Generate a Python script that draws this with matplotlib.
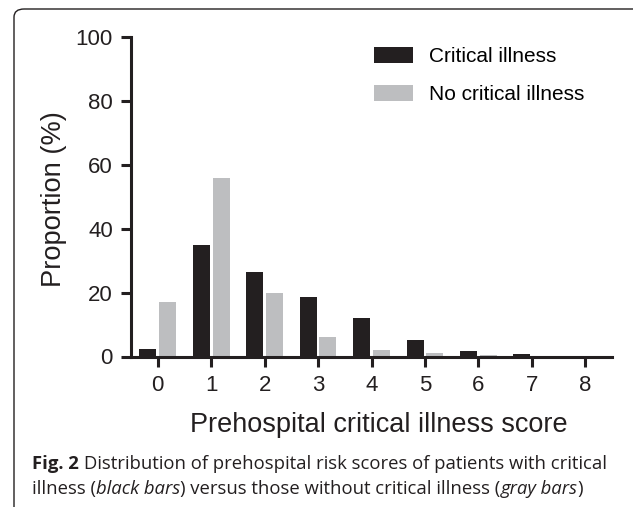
import matplotlib
matplotlib.use("Agg")
import matplotlib.pyplot as plt
import numpy as np
from matplotlib.patches import FancyBboxPatch

scores = [0, 1, 2, 3, 4, 5, 6, 7, 8]
critical = [2.5, 34.8, 26.5, 18.5, 12.2, 5.2, 1.8, 0.8, 0.2]
no_critical = [17.2, 55.8, 20.0, 6.0, 2.0, 1.0, 0.5, 0.1, 0.0]
series_names = ["Critical illness", "No critical illness"]
y_ticks = [0, 20, 40, 60, 80, 100]

black = "#231f20"
gray = "#bdbec0"

plt.rcParams['font.family'] = ['Liberation Sans', 'DejaVu Sans']

fig = plt.figure(figsize=(6.33, 5.07), dpi=100)

# rounded frame round the figure (only top and left edges fall inside)
frame = FancyBboxPatch((14 / 633, -0.2), 1.2, 1.2 - 9 / 507,
                       boxstyle="round,pad=0,rounding_size=0.016",
                       transform=fig.transFigure, fill=False,
                       edgecolor="#231f20", linewidth=1.0)
fig.patches.append(frame)

ax = fig.add_axes([131 / 633, 1 - 356.5 / 507, (612 - 131) / 633, (356.5 - 37) / 507])

x = np.arange(len(scores))
w = 0.32
ax.bar(x - 0.185, critical, width=w, color=black, label=series_names[0])
ax.bar(x + 0.185, no_critical, width=w, color=gray, label=series_names[1])

ax.set_xlim(-0.5, 8.5)
ax.set_ylim(0, 100)
ax.set_xticks(x)
ax.set_xticklabels([str(s) for s in scores])
ax.set_yticks(y_ticks)

for side in ["top", "right"]:
    ax.spines[side].set_visible(False)
for side in ["left", "bottom"]:
    ax.spines[side].set_linewidth(2.2)
    ax.spines[side].set_color(black)

ax.tick_params(axis="both", width=2.2, length=7, color=black,
               labelsize=16, labelcolor=black)
ax.tick_params(axis="y", pad=6)
ax.tick_params(axis="x", pad=6)

fig.text(54 / 633, 1 - 199 / 507, "Proportion (%)", rotation=90,
         ha="center", va="center", fontsize=19.6, color=black)
fig.text(379 / 633, 1 - 432 / 507, "Prehospital critical illness score",
         ha="center", va="baseline", fontsize=19.5, color=black)

ax.legend(loc="upper left", bbox_to_anchor=(374 / 633, 1 - 47 / 507),
          bbox_transform=fig.transFigure, frameon=False, fontsize=15,
          handlelength=1.85, handleheight=0.82, handletextpad=0.78,
          labelspacing=0.88, borderpad=0, borderaxespad=0)

# caption, bold label followed by plain and italic pieces
cap_font = ['Open Sans', 'DejaVu Sans']
cap_size = 13.3
cap_color = "#231f20"
line1 = [("Fig. 2 ", "bold", "normal"),
         ("Distribution of prehospital risk scores of patients with critical", "normal", "normal")]
line2 = [("illness (", "normal", "normal"), ("black bars", "normal", "italic"),
         (") versus those without critical illness (", "normal", "normal"),
         ("gray bars", "normal", "italic"), (")", "normal", "normal")]

for pieces, base_y in [(line1, 1 - 469 / 507), (line2, 1 - 494 / 507)]:
    prev = None
    for txt, weight, style in pieces:
        if prev is None:
            prev = fig.text(32 / 633, base_y, txt, ha="left", va="baseline",
                            fontsize=cap_size, family=cap_font,
                            weight=weight, style=style, color=cap_color)
        else:
            prev = fig.add_artist(plt.Annotation(
                txt, xy=(1, 0), xycoords=prev, va="bottom", ha="left",
                fontsize=cap_size, family=cap_font, weight=weight,
                style=style, color=cap_color))

fig.savefig("out.png", dpi=100)
